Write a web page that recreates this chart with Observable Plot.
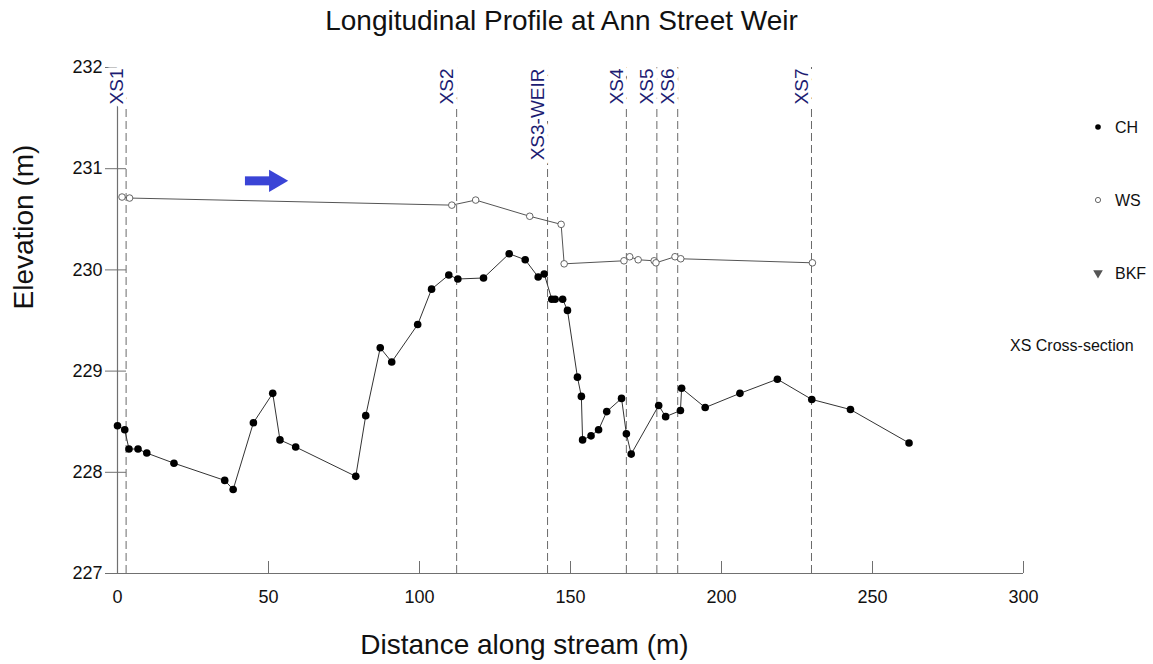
<!DOCTYPE html>
<html>
<head>
<meta charset="utf-8">
<script src="https://cdn.jsdelivr.net/npm/d3@7"></script>
<script src="https://cdn.jsdelivr.net/npm/@observablehq/plot@0.6"></script>
<style>
  body { margin: 0; background: #fff; }
  #wrap { position: relative; width: 1153px; height: 664px; font-family: "Liberation Sans", Arial, sans-serif; }
  #chart { position: absolute; left: 0; top: 0; }
  #legend { position: absolute; left: 0; top: 0; pointer-events: none; }
</style>
</head>
<body>
<div id="wrap">
  <div id="chart"></div>
  <svg id="legend" width="1153" height="664"></svg>
</div>
<script>
// Channel bed (CH) survey points: distance along stream (m) and elevation (m)
const chDistance = [0, 2.4, 3.8, 6.8, 9.7, 18.7, 35.5, 38.3, 45.0, 51.4, 53.8, 59.0, 78.9, 82.2, 87.0, 90.8,
  99.4, 104.0, 109.7, 112.7, 121.2, 129.7, 135.0, 139.3, 141.3, 143.8, 144.9, 147.4, 149.0, 152.3, 153.6,
  154.0, 156.8, 159.3, 162.0, 166.9, 168.5, 170.1, 179.2, 181.5, 186.4, 186.8, 194.6, 206.1, 218.5, 229.9,
  242.7, 262.1];
const chElevation = [228.46, 228.42, 228.23, 228.23, 228.19, 228.09, 227.92, 227.83, 228.49, 228.78, 228.32,
  228.25, 227.96, 228.56, 229.23, 229.09, 229.46, 229.81, 229.95, 229.91, 229.92, 230.16, 230.10, 229.93,
  229.96, 229.71, 229.71, 229.71, 229.60, 228.94, 228.75, 228.32, 228.36, 228.42, 228.60, 228.73, 228.38,
  228.18, 228.66, 228.55, 228.61, 228.83, 228.64, 228.78, 228.92, 228.72, 228.62, 228.29];

// Water surface (WS) points
const wsDistance = [1.5, 4.0, 110.7, 118.6, 136.5, 146.9, 147.9, 167.7, 169.6, 172.4, 177.7, 178.3, 184.6, 186.5, 230.1];
const wsElevation = [230.72, 230.71, 230.64, 230.69, 230.53, 230.45, 230.06, 230.09, 230.13, 230.10, 230.09,
  230.07, 230.13, 230.11, 230.07];

// Surveyed cross-sections
const xsNames = ["XS1", "XS2", "XS3-WEIR", "XS4", "XS5", "XS6", "XS7"];
const xsDistance = [2.85, 112.3, 142.4, 168.5, 178.6, 185.5, 229.8];

// Flow direction arrow (distance from/to, elevation)
const flowFrom = 42.2, flowShaftEnd = 50.5, flowHead = 52.3, flowElevation = 230.88;

// Axis ticks
const xTicks = [0, 50, 100, 150, 200, 250, 300];
const yTicks = [227, 228, 229, 230, 231, 232];

const ch = chDistance.map((d, i) => ({distance: d, elevation: chElevation[i]}));
const ws = wsDistance.map((d, i) => ({distance: d, elevation: wsElevation[i]}));
const sections = xsNames.map((name, i) => ({name, distance: xsDistance[i]}));

const font = '"Liberation Sans", Arial, sans-serif';
const axisGray = "#707070";

const chart = Plot.plot({
  width: 1153,
  height: 664,
  marginLeft: 117,
  marginRight: 130,
  marginTop: 67,
  marginBottom: 91,
  style: {fontFamily: font, background: "white", color: "#111"},
  x: {domain: [0, 300], label: null},
  y: {domain: [227, 232], label: null},
  marks: [
    // cross-section markers
    Plot.ruleX(sections, {x: "distance", y1: 227, y2: 232, stroke: "#6a6a6a", strokeWidth: 1, strokeDasharray: "8,4"}),
    // frame lines
    Plot.ruleX([0], {y1: 227, y2: 232, stroke: axisGray, strokeWidth: 1.2}),
    Plot.ruleY([227], {x1: 0, x2: 300, stroke: axisGray, strokeWidth: 1.2}),
    // ticks crossing the left axis and rising from the bottom axis
    Plot.axisY({ticks: yTicks, label: null, tickSize: 21, dx: 9, tickFormat: () => "", stroke: axisGray}),
    Plot.axisY({ticks: yTicks, label: null, tickSize: 0, tickPadding: 15, fontSize: 18, tickFormat: d => d, fill: "#111"}),
    Plot.axisX({ticks: xTicks, label: null, tickSize: 12, dy: -12, tickFormat: () => "", stroke: axisGray}),
    Plot.axisX({ticks: xTicks, label: null, tickSize: 0, tickPadding: 17, fontSize: 18, tickFormat: d => d, fill: "#111"}),
    // cross-section labels, with a white halo hiding the lines underneath
    Plot.text(sections, {x: "distance", y: () => 232, text: "name", rotate: -90, textAnchor: "end",
      lineAnchor: "bottom", dx: -3.5, dy: 1, fontSize: 19, fill: "#1c1c72", stroke: "white", strokeWidth: 10}),
    // water surface
    Plot.line(ws, {x: "distance", y: "elevation", stroke: "#555", strokeWidth: 1}),
    Plot.dot(ws, {x: "distance", y: "elevation", r: 3.3, stroke: "#555", strokeWidth: 0.9, fill: "white"}),
    // channel bed
    Plot.line(ch, {x: "distance", y: "elevation", stroke: "#333", strokeWidth: 1}),
    Plot.dot(ch, {x: "distance", y: "elevation", r: 3.8, fill: "#000", stroke: "none"}),
    // flow direction
    Plot.link([{}], {x1: () => flowFrom, x2: () => flowShaftEnd, y1: () => flowElevation, y2: () => flowElevation,
      stroke: "#3a44d6", strokeWidth: 9}),
    Plot.dot([{}], {x: () => flowHead, y: () => flowElevation, symbol: "triangle", rotate: 90, r: 8.2,
      fill: "#3a44d6", stroke: "none"}),
    // titles
    Plot.text(["Longitudinal Profile at Ann Street Weir"], {frameAnchor: "top", lineAnchor: "bottom",
      dx: -9, dy: -38, fontSize: 28, fill: "#111"}),
    Plot.text(["Distance along stream (m)"], {frameAnchor: "bottom", lineAnchor: "bottom",
      dx: -46, dy: 80, fontSize: 28, fill: "#111"}),
    Plot.text(["Elevation (m)"], {frameAnchor: "left", lineAnchor: "bottom", rotate: -90,
      dx: -85, dy: -11, fontSize: 28, fill: "#111"})
  ]
});
document.getElementById("chart").append(chart);

// Legend on the right
const legend = d3.select("#legend");
const items = [
  {label: "CH", y: 127, symbol: "filled"},
  {label: "WS", y: 200, symbol: "open"},
  {label: "BKF", y: 273, symbol: "triangle"}
];
items.forEach(it => {
  if (it.symbol === "filled") legend.append("circle").attr("cx", 1098).attr("cy", it.y).attr("r", 2.8).attr("fill", "#000");
  if (it.symbol === "open") legend.append("circle").attr("cx", 1098).attr("cy", it.y).attr("r", 2.6)
    .attr("fill", "white").attr("stroke", "#555").attr("stroke-width", 0.9);
  if (it.symbol === "triangle") legend.append("path")
    .attr("d", d3.symbol(d3.symbolTriangle, 40)()).attr("transform", `translate(1098,${it.y}) rotate(180)`).attr("fill", "#555");
  legend.append("text").attr("x", 1115).attr("y", it.y).attr("dy", "0.35em")
    .attr("font-family", font).attr("font-size", 16).attr("fill", "#111").text(it.label);
});
legend.append("text").attr("x", 1010).attr("y", 345).attr("dy", "0.35em")
  .attr("font-family", font).attr("font-size", 16).attr("fill", "#111").text("XS Cross-section");
</script>
</body>
</html>
